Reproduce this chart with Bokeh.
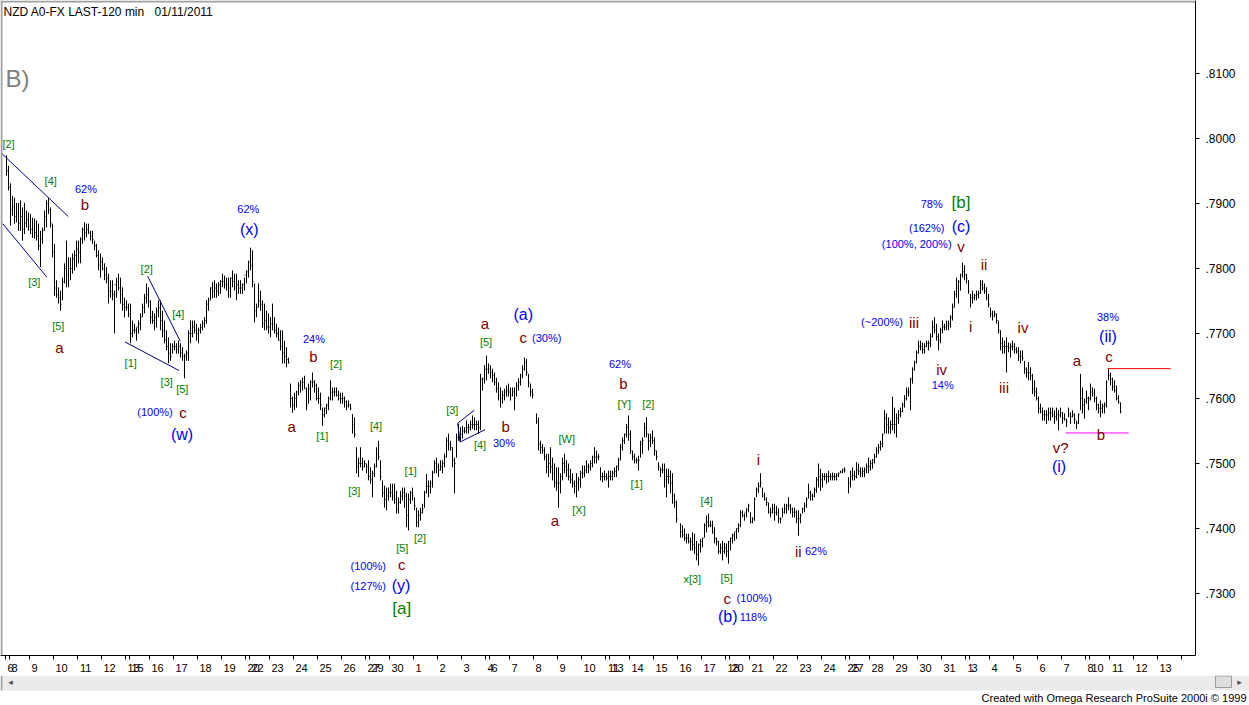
import math
from bokeh.plotting import figure
from bokeh.layouts import column
from bokeh.models import Range1d, FixedTicker, Label, BoxAnnotation, AllLabels
from bokeh.core.properties import value
from bokeh.embed import file_html
from bokeh.resources import INLINE

# ---------------- data ----------------
TITLE = "NZD A0-FX LAST-120 min"
TITLE_DATE = "01/11/2011"
CREDIT = "Created with Omega Research ProSuite 2000i \u00a9 1999"
PANEL_TAG = "B)"

FIRST_BAR = -2  # index of the first 120-min bar (Nov 6 2010 session)

# prices in pips (x 0.0001); None = no bar
HI = [
    7974, 7958,
    7931, 7912, 7909, 7901, 7901, 7905, 7894, 7901, 7889, 7886,
    7884, 7878, 7877, 7874, 7869, 7858, 7863, 7889, 7905, 7909, 7894, 7869,
    7838, 7782, 7771, 7766, 7786, 7808, 7843, 7817, 7817, 7823, 7828, 7843,
    7843, 7848, 7863, 7871, 7869, 7869, 7858, 7858, 7843, 7838, 7828, 7823,
    7817, 7808, 7802, 7792, 7782, 7782, 7766, 7786, 7792, 7786, 7771, 7755,
    7751, 7746,
    7746, 7720, 7715, 7709, 7720, 7731, 7746, 7761, 7777, 7771,
    7751, 7735, 7731, 7740, 7751, 7751, 7735, 7720, 7705, 7694, 7685, 7685,
    7689, 7685, 7689, 7685, 7679, 7669, 7674, 7705, 7720, 7720, 7720, 7715,
    7709, 7715, 7720, 7725, 7751, 7755, 7771, 7779, 7782, 7777, 7779, 7782,
    7792, 7789, 7786, 7786, 7786, 7797, 7792, 7792, 7782, 7782, 7777, 7786,
    7797, 7812,
    7832, 7828, 7777, 7746, 7777, 7766, 7751, 7746, 7735, 7731,
    7725, 7746, 7725, 7715, 7709, 7705, 7705, 7689, 7679, 7663, 7623, 7603,
    7609, 7612, 7625, 7628, 7632, 7635, 7617, 7623, 7628, 7640, 7628, 7623,
    7617, 7609, 7586, 7586, 7592, 7603, 7628, 7617, 7617, 7617, 7612, 7609,
    7609, 7603, 7597, 7597, 7592, 7576, 7571, 7525, 7509, 7525, 7509, 7505,
    7500, 7505,
    7494, 7489, 7500, 7525, 7535, 7505, 7474, 7466, 7463, 7463,
    7469, 7469, 7469, 7458, 7448, 7458, 7463, 7463, 7455, 7454, 7458, 7463,
    7448, 7432, 7428, 7432, 7438, 7458, 7484, 7474, 7474, 7489, 7505, 7509,
    7500, 7505, 7505, 7515, 7540, 7546, 7535, 7525, 7509, 7546, 7561, 7556,
    7558, 7556, 7566, 7561, 7566, 7574, 7571, 7566, 7566, 7638, 7632, 7651,
    7666, 7654,
    7651, 7646, 7640, 7632, 7625, 7617, 7612, 7615, 7620, 7623,
    7617, 7617, 7617, 7625, 7631, 7638, 7651, 7663, 7661, 7638, 7623, 7615,
    None, 7577, 7571, 7535, 7530, 7525, 7515, 7515, 7525, 7509, 7500, 7494,
    7494, 7485, 7509, 7515, 7505, 7500, 7492, 7485, 7474, 7485, 7479, 7489,
    7497, 7497, 7505, 7500, 7505, 7512, 7525, 7520, 7515, 7494, 7486, 7489,
    7485, 7489,
    7489, 7489, 7494, 7497, 7509, 7530, 7540, 7546, 7561, 7574,
    7551, 7520, 7515, 7509, 7512, 7535, 7540, 7563, 7571, 7546, 7546, 7551,
    7540, 7520, 7502, 7494, 7500, 7500, 7492, 7492, 7489, 7485, 7454, 7443,
    None, 7408, 7405, 7400, 7392, 7392, 7386, 7394, 7392, 7381, 7377, 7384,
    7386, 7408, 7420, 7423, 7412, 7412, 7402, 7386, 7381, 7377, 7381, 7378,
    7377, 7381,
    7386, 7392, 7394, 7400, 7408, 7428, 7428, 7423, 7431, 7438,
    7425, 7417, 7448, 7463, 7471, 7485, 7463, 7455, 7448, 7440, 7432, 7438,
    7438, 7435, 7431, 7417, 7432, 7438, 7438, 7448, 7438, 7432, 7432, 7428,
    7428, 7423, 7432, 7440, 7448, 7469, 7458, 7454, 7463, 7479, 7500, 7492,
    7485, 7485, 7485, 7489, 7485, 7486, 7485, 7485, 7486, 7489, 7492, 7494,
    None, 7479,
    7489, 7494, 7489, 7502, 7500, 7494, 7494, 7494, 7500, 7509,
    7505, 7507, 7515, 7525, 7530, 7535, 7546, 7582, 7577, 7571, 7566, 7603,
    7586, 7577, 7582, 7586, 7594, 7605, 7617, 7617, 7632, 7648, 7658, 7674,
    7689, 7689, 7686, 7685, 7689, 7689, 7700, 7720, 7725, 7715, 7700, 7709,
    7720, 7715, 7720, 7720, 7728, 7746, 7766, 7786, 7782, 7792, 7809, 7805,
    7792, 7782,
    7761, 7766, 7761, 7766, 7766, 7782, 7782, 7777, 7771, 7761,
    7740, 7735, 7735, 7731, 7720, 7705, 7694, 7689, 7694, 7686, 7685, 7689,
    7685, 7679, 7679, 7674, 7674, 7658, 7648, 7656, 7648, 7638, 7628, 7617,
    7603, 7592, 7586, 7582, 7582, 7586, 7586, 7586, 7582, 7586, 7582, 7586,
    7579, 7577, 7569, 7586, 7579, 7582, 7577, 7566, 7577, 7638, 7617, 7600,
    7612, 7603,
    7623, 7617, 7615, 7603, 7592, 7597, 7592, 7594, 7628, 7646,
    7640, 7632, 7628, 7620, 7605, 7594,
]

LO = [
    7943, 7920,
    7866, 7881, 7869, 7871, 7858, 7858, 7843, 7853, 7863, 7858,
    7853, 7847, 7846, 7843, 7828, 7802, 7838, 7858, 7863, 7884, 7863, 7817,
    7758, 7755, 7746, 7735, 7751, 7777, 7771, 7771, 7782, 7792, 7797, 7802,
    7808, 7808, 7838, 7843, 7848, 7853, 7843, 7838, 7828, 7817, 7797, 7786,
    7797, 7782, 7777, 7746, 7755, 7751, 7700, 7755, 7766, 7746, 7735, 7725,
    7735, 7725,
    7685, 7694, 7700, 7689, 7700, 7705, 7725, 7731, 7746, 7740,
    7715, 7715, 7705, 7709, 7725, 7705, 7694, 7685, 7674, 7654, 7658, 7669,
    7674, 7669, 7669, 7663, 7658, 7631, 7658, 7658, 7685, 7694, 7700, 7689,
    7685, 7700, 7705, 7709, 7715, 7735, 7751, 7754, 7755, 7755, 7758, 7761,
    7771, 7769, 7766, 7755, 7755, 7771, 7766, 7751, 7761, 7761, 7761, 7766,
    7777, 7786,
    7797, 7771, 7717, 7725, 7740, 7735, 7709, 7705, 7705, 7700,
    7694, 7705, 7700, 7694, 7689, 7674, 7654, 7654, 7648, 7654, 7586, 7578,
    7582, 7586, 7605, 7609, 7612, 7615, 7582, 7592, 7597, 7617, 7609, 7597,
    7592, 7582, 7558, 7571, 7576, 7582, 7597, 7597, 7603, 7603, 7597, 7592,
    7592, 7586, 7582, 7586, 7582, 7546, 7540, 7485, 7479, 7494, 7489, 7494,
    7485, 7474,
    7469, 7448, 7479, 7494, 7505, 7474, 7448, 7432, 7428, 7443,
    7448, 7443, 7438, 7423, 7423, 7438, 7443, 7432, 7402, 7397, 7438, 7443,
    7428, 7402, 7402, 7412, 7423, 7432, 7454, 7448, 7454, 7463, 7485, 7485,
    7479, 7489, 7485, 7494, 7509, 7520, 7520, 7494, 7454, 7509, 7535, 7535,
    7538, 7546, 7546, 7546, 7551, 7553, 7551, 7551, 7546, 7551, 7612, 7623,
    7628, 7638,
    7631, 7625, 7620, 7609, 7597, 7586, 7592, 7597, 7603, 7603,
    7597, 7603, 7582, 7603, 7612, 7620, 7631, 7643, 7635, 7617, 7603, 7600,
    None, 7561, 7520, 7515, 7515, 7505, 7485, 7479, 7485, 7474, 7463, 7458,
    7432, 7454, 7474, 7485, 7479, 7474, 7469, 7463, 7454, 7448, 7458, 7463,
    7477, 7479, 7485, 7485, 7489, 7494, 7500, 7500, 7505, 7474, 7471, 7474,
    7474, 7463,
    7474, 7474, 7479, 7479, 7489, 7505, 7520, 7530, 7540, 7535,
    7515, 7505, 7500, 7500, 7489, 7509, 7515, 7540, 7540, 7520, 7525, 7530,
    7512, 7505, 7489, 7479, 7485, 7463, 7448, 7469, 7454, 7438, 7432, 7409,
    None, 7386, 7386, 7381, 7377, 7377, 7366, 7366, 7361, 7351, 7343, 7363,
    7371, 7386, 7394, 7402, 7402, 7392, 7377, 7374, 7361, 7361, 7351, 7361,
    7356, 7346,
    7366, 7377, 7381, 7384, 7394, 7402, 7417, 7412, 7417, 7425,
    7408, 7408, 7412, 7448, 7455, 7463, 7448, 7443, 7435, 7423, 7417, 7423,
    7412, 7420, 7408, 7408, 7417, 7423, 7423, 7428, 7423, 7417, 7417, 7408,
    7389, 7408, 7423, 7425, 7432, 7446, 7443, 7443, 7448, 7455, 7463, 7458,
    7463, 7474, 7469, 7471, 7474, 7474, 7474, 7474, 7479, 7485, 7485, 7486,
    None, 7454,
    7463, 7474, 7474, 7477, 7482, 7479, 7479, 7479, 7485, 7485,
    7489, 7492, 7500, 7509, 7515, 7520, 7525, 7546, 7546, 7546, 7546, 7551,
    7546, 7540, 7561, 7571, 7579, 7586, 7597, 7603, 7582, 7623, 7643, 7654,
    7669, 7674, 7669, 7669, 7679, 7674, 7679, 7694, 7700, 7689, 7674, 7685,
    7700, 7705, 7705, 7705, 7709, 7720, 7740, 7755, 7746, 7766, 7786, 7782,
    7777, 7761,
    7740, 7746, 7751, 7751, 7754, 7761, 7766, 7761, 7751, 7740,
    7725, 7720, 7725, 7715, 7700, 7674, 7669, 7669, 7640, 7671, 7663, 7674,
    7669, 7669, 7658, 7654, 7658, 7638, 7632, 7628, 7628, 7607, 7603, 7597,
    7577, 7577, 7566, 7566, 7561, 7566, 7566, 7571, 7561, 7566, 7551, 7571,
    7561, 7566, 7556, 7571, 7561, 7571, 7561, 7553, 7561, 7582, 7577, 7569,
    7592, 7582,
    7597, 7603, 7594, 7582, 7577, 7571, 7577, 7577, 7586, 7628,
    7620, 7612, 7609, 7597, 7592, 7577,
]

CL = [
    7950, 7925,
    7890, 7895, 7880, 7885, 7870, 7880, 7860, 7870, 7875, 7865,
    7860, 7860, 7855, 7850, 7835, 7845, 7858, 7880, 7900, 7890, 7870, 7825,
    7770, 7760, 7755, 7745, 7780, 7800, 7790, 7800, 7800, 7815, 7820, 7830,
    7825, 7845, 7860, 7855, 7860, 7855, 7850, 7845, 7835, 7820, 7805, 7810,
    7800, 7790, 7785, 7765, 7765, 7760, 7775, 7780, 7770, 7760, 7745, 7740,
    7740, 7730,
    7700, 7705, 7705, 7710, 7715, 7725, 7740, 7755, 7760, 7750,
    7725, 7720, 7725, 7735, 7740, 7720, 7705, 7690, 7680, 7670, 7665, 7680,
    7680, 7675, 7680, 7670, 7665, 7665, 7670, 7700, 7700, 7710, 7705, 7700,
    7705, 7710, 7715, 7720, 7745, 7750, 7770, 7765, 7770, 7765, 7775, 7780,
    7780, 7775, 7775, 7770, 7785, 7780, 7770, 7775, 7770, 7770, 7775, 7790,
    7795, 7810,
    7805, 7780, 7735, 7740, 7750, 7745, 7715, 7720, 7710, 7710,
    7715, 7715, 7705, 7700, 7690, 7680, 7670, 7665, 7660, 7655, 7600, 7590,
    7600, 7610, 7620, 7625, 7625, 7615, 7590, 7615, 7625, 7625, 7620, 7600,
    7600, 7590, 7575, 7585, 7590, 7600, 7610, 7610, 7610, 7605, 7605, 7600,
    7600, 7595, 7590, 7590, 7585, 7560, 7545, 7495, 7500, 7500, 7495, 7500,
    7495, 7480,
    7475, 7485, 7495, 7515, 7510, 7480, 7455, 7445, 7450, 7455,
    7455, 7450, 7445, 7430, 7440, 7450, 7455, 7450, 7420, 7445, 7455, 7450,
    7435, 7410, 7420, 7425, 7430, 7455, 7465, 7465, 7470, 7485, 7500, 7495,
    7490, 7495, 7500, 7510, 7535, 7530, 7525, 7505, 7500, 7540, 7545, 7545,
    7550, 7550, 7555, 7555, 7560, 7560, 7560, 7560, 7555, 7630, 7630, 7645,
    7645, 7645,
    7640, 7635, 7625, 7615, 7605, 7600, 7605, 7610, 7612, 7610,
    7605, 7610, 7600, 7620, 7625, 7635, 7645, 7655, 7640, 7625, 7610, 7605,
    None, 7565, 7530, 7525, 7520, 7510, 7495, 7500, 7495, 7485, 7470, 7470,
    7470, 7480, 7500, 7495, 7490, 7480, 7475, 7470, 7465, 7470, 7475, 7485,
    7485, 7490, 7495, 7495, 7500, 7510, 7510, 7510, 7510, 7480, 7480, 7480,
    7478, 7480,
    7480, 7485, 7488, 7495, 7505, 7525, 7535, 7545, 7555, 7545,
    7520, 7510, 7505, 7505, 7505, 7530, 7535, 7555, 7545, 7535, 7540, 7535,
    7520, 7510, 7495, 7490, 7490, 7475, 7480, 7480, 7470, 7450, 7440, 7415,
    None, 7395, 7390, 7385, 7385, 7380, 7380, 7375, 7370, 7360, 7375, 7380,
    7385, 7405, 7410, 7405, 7405, 7395, 7385, 7380, 7365, 7370, 7365, 7370,
    7365, 7380,
    7385, 7390, 7395, 7400, 7405, 7425, 7420, 7425, 7430, 7435,
    7410, 7415, 7445, 7460, 7465, 7470, 7450, 7445, 7440, 7425, 7425, 7430,
    7425, 7425, 7415, 7415, 7425, 7430, 7435, 7435, 7430, 7425, 7425, 7415,
    7415, 7420, 7430, 7435, 7445, 7455, 7450, 7450, 7460, 7475, 7480, 7475,
    7480, 7480, 7480, 7480, 7480, 7480, 7480, 7482, 7485, 7487, 7490, 7490,
    None, 7470,
    7480, 7482, 7480, 7490, 7488, 7485, 7488, 7490, 7495, 7495,
    7500, 7505, 7510, 7520, 7525, 7530, 7545, 7570, 7560, 7555, 7560, 7560,
    7560, 7570, 7575, 7580, 7590, 7600, 7610, 7610, 7630, 7645, 7655, 7670,
    7680, 7680, 7675, 7680, 7685, 7685, 7695, 7710, 7705, 7695, 7690, 7705,
    7710, 7710, 7712, 7715, 7725, 7740, 7760, 7770, 7780, 7790, 7795, 7790,
    7785, 7765,
    7755, 7755, 7758, 7760, 7762, 7775, 7770, 7765, 7755, 7745,
    7730, 7728, 7730, 7720, 7705, 7685, 7680, 7680, 7680, 7678, 7680, 7680,
    7675, 7672, 7665, 7665, 7662, 7645, 7640, 7640, 7635, 7615, 7610, 7600,
    7585, 7580, 7575, 7575, 7575, 7578, 7578, 7575, 7572, 7575, 7575, 7578,
    7570, 7568, 7565, 7575, 7572, 7575, 7568, 7562, 7575, 7600, 7590, 7595,
    7600, 7600,
    7610, 7608, 7600, 7590, 7585, 7585, 7588, 7590, 7625, 7635,
    7630, 7618, 7612, 7600, 7595, 7580,
]

# calendar: label of each session and the index of its first bar
DAY_LABELS = ["6", "8", "9", "10", "11", "12", "13", "15", "16", "17", "18", "19",
              "20", "22", "23", "24", "25", "26", "27", "29", "30", "1", "2", "3",
              "4", "6", "7", "8", "9", "10", "11", "13", "14", "15", "16", "17",
              "18", "20", "21", "22", "23", "24", "25", "27", "28", "29", "30", "31",
              "1", "3", "4", "5", "6", "7", "8", "10", "11", "12", "13", ""]
DAY_START = [-2, 0, 10, 22, 34, 46, 58, 60, 70, 82, 94, 106,
             118, 120, 130, 142, 154, 166, 178, 180, 190, 202, 214, 226,
             238, 240, 250, 262, 274, 286, 298, 300, 310, 322, 334, 346,
             358, 360, 370, 382, 394, 406, 418, 420, 430, 442, 454, 466,
             478, 480, 490, 502, 514, 526, 538, 540, 550, 562, 574, 586]

Y_TICKS = [0.73, 0.74, 0.75, 0.76, 0.77, 0.78, 0.79, 0.80, 0.81]
Y_LABELS = [".7300", ".7400", ".7500", ".7600", ".7700", ".7800", ".7900", ".8000", ".8100"]

# Elliott-wave annotations: (text, bar, price, kind)
WAVE_LABELS = [
    ("[2]", -1.0, 0.7991, "num"), ("[4]", 20.1, 0.7934, "num"),
    ("62%", 37.75, 0.7922, "pct"), ("b", 37.25, 0.7899, "sub"),
    ("[3]", 11.9, 0.7779, "num"), ("[5]", 23.9, 0.7712, "num"), ("a", 24.4, 0.7679, "sub"),
    ("[2]", 68.1, 0.7800, "num"), ("[4]", 83.9, 0.7730, "num"), ("[1]", 60.1, 0.7655, "num"),
    ("[3]", 78.1, 0.7626, "num"), ("[5]", 85.9, 0.7615, "num"),
    ("(100%)", 72.25, 0.7580, "pct"), ("c", 86.25, 0.7579, "sub"), ("(w)", 85.75, 0.7545, "par"),
    ("62%", 118.9, 0.7892, "pct"), ("(x)", 119.4, 0.7860, "par"),
    ("24%", 151.75, 0.7692, "pct"), ("b", 151.4, 0.7665, "sub"), ("[2]", 162.75, 0.7653, "num"),
    ("a", 140.6, 0.7557, "sub"), ("[1]", 155.9, 0.7542, "num"), ("[4]", 182.75, 0.7557, "num"),
    ("[3]", 171.9, 0.7457, "num"), ("[1]", 200.1, 0.7488, "num"), ("[5]", 195.9, 0.7370, "num"),
    ("[2]", 204.75, 0.7386, "num"), ("(100%)", 178.9, 0.7342, "pct"), ("c", 195.6, 0.7344, "sub"),
    ("(127%)", 178.9, 0.7312, "pct"), ("(y)", 195.25, 0.7312, "par"), ("[a]", 195.6, 0.7277, "deg"),
    ("[3]", 220.9, 0.7582, "num"), ("[4]", 234.75, 0.7529, "num"),
    ("a", 237.25, 0.7716, "sub"), ("[5]", 237.75, 0.7687, "num"),
    ("(a)", 256.4, 0.7729, "par"), ("c", 256.4, 0.7694, "sub"), ("(30%)", 268.1, 0.7693, "pct"),
    ("b", 247.6, 0.7557, "sub"), ("30%", 246.75, 0.7532, "pct"),
    ("[W]", 278.1, 0.7537, "num"), ("a", 272.25, 0.7412, "sub"), ("[X]", 284.25, 0.7429, "num"),
    ("62%", 304.75, 0.7653, "pct"), ("b", 306.4, 0.7623, "sub"), ("[Y]", 306.9, 0.7591, "num"),
    ("[2]", 318.9, 0.7591, "num"), ("[1]", 313.1, 0.7469, "num"), ("[4]", 348.1, 0.7443, "num"),
    ("x[3]", 340.9, 0.7323, "num"), ("[5]", 358.1, 0.7324, "num"),
    ("c", 358.4, 0.7293, "sub"), ("(100%)", 371.9, 0.7293, "pct"),
    ("(b)", 358.6, 0.7265, "par"), ("118%", 371.4, 0.7264, "pct"),
    ("i", 373.9, 0.7506, "sub"), ("ii", 393.9, 0.7365, "sub"), ("62%", 402.75, 0.7366, "pct"),
    ("78%", 460.6, 0.7899, "pct"), ("[b]", 475.25, 0.7901, "deg"),
    ("(162%)", 458.1, 0.7863, "pct"), ("(c)", 475.25, 0.7865, "par"),
    ("(100%, 200%)", 453.1, 0.7837, "pct"), ("v", 475.25, 0.7834, "sub"),
    ("(~200%)", 435.75, 0.7717, "pct"), ("iii", 451.75, 0.7717, "sub"),
    ("i", 480.1, 0.7711, "sub"), ("ii", 486.75, 0.7806, "sub"),
    ("iv", 465.6, 0.7644, "sub"), ("14%", 466.1, 0.7621, "pct"),
    ("iv", 506.25, 0.7710, "sub"), ("iii", 496.75, 0.7617, "sub"),
    ("v?", 525.1, 0.7525, "sub"), ("(i)", 524.25, 0.7496, "par"),
    ("a", 533.25, 0.7659, "sub"), ("38%", 548.75, 0.7726, "pct"), ("(ii)", 548.75, 0.7696, "par"),
    ("c", 549.25, 0.7665, "sub"), ("b", 545.25, 0.7545, "sub"),
]

# hand-drawn trend lines: (bar0, price0, bar1, price1, colour)
TREND_LINES = [
    (-4.4, 0.7977, 28.9, 0.7880, "#000080"),
    (-3.9, 0.7869, 18.1, 0.7787, "#000080"),
    (57.25, 0.7687, 84.25, 0.7643, "#000080"),
    (68.6, 0.7788, 84.9, 0.7688, "#000080"),
    (223.6, 0.7562, 231.9, 0.7582, "#000080"),
    (224.75, 0.7533, 237.25, 0.7552, "#000080"),
    (223.6, 0.7562, 224.75, 0.7533, "#000080"),
    (548.6, 0.7646, 580.1, 0.7646, "#ff0000"),
    (527.6, 0.7547, 559.1, 0.7547, "#ff00ff"),
]

# ---------------- styling / layout ----------------
W = 1249
H_MAIN = 675          # main chart canvas height
H_FOOT = 30           # scroll bar + credit strip
FR, FB = 1195, 655    # frame right / bottom (canvas px)
X0, X1 = -5.0, 592.5
Y1 = 0.821231
Y0 = Y1 - FB / 6500.0
FONT = "Liberation Sans"
KIND = {"num": ("#008000", "11px"), "pct": ("#0000ff", "11px"),
        "sub": ("#800000", "15px"), "par": ("#0000ff", "16px"), "deg": ("#008000", "17px")}

def px(v):
    return float("nan") if v is None else v / 10000.0

def no_frame_align(fig):
    if "frame_align" in fig.properties():
        fig.frame_align = False

n = min(len(HI), len(LO), len(CL))
xs = [FIRST_BAR + i for i in range(n)]
hi = [px(v) for v in HI[:n]]
lo = [px(v) for v in LO[:n]]
cl = [px(v) for v in CL[:n]]

p = figure(width=W, height=H_MAIN, x_range=Range1d(X0, X1), y_range=Range1d(Y0, Y1),
           output_backend="svg", toolbar_location=None,
           x_axis_location="below", y_axis_location="right",
           min_border_left=0, min_border_top=0,
           min_border_right=W - FR, min_border_bottom=H_MAIN - FB)
no_frame_align(p)
p.outline_line_color = None
p.background_fill_color = "white"
p.border_fill_color = "white"
p.grid.visible = False

# right price axis
yax = p.yaxis[0]
yax.ticker = FixedTicker(ticks=Y_TICKS)
yax.major_label_overrides = dict(zip(Y_TICKS, Y_LABELS))
yax.minor_tick_line_color = None
yax.major_tick_in = 0
yax.major_tick_out = 4
yax.major_label_standoff = 6
yax.axis_line_color = "black"
yax.major_tick_line_color = "black"
yax.major_label_text_font = FONT
yax.major_label_text_font_size = "12px"
yax.major_label_text_color = "black"

# bottom date axis: marks (minor ticks) at session starts, labels just right of them
bounds = [s - 0.5 for s in DAY_START]
centers, over = [], {}
for s, t in zip(DAY_START, DAY_LABELS):
    if not t:
        continue
    c = s - 0.5 + (2.0 + 3.05 * len(t)) / 2.0
    centers.append(c)
    over[c] = t
xax = p.xaxis[0]
xax.ticker = FixedTicker(ticks=centers, minor_ticks=bounds)
xax.major_label_overrides = over
xax.major_tick_line_color = None
xax.major_tick_in = 0
xax.major_tick_out = 0
xax.minor_tick_line_color = "black"
xax.minor_tick_in = 0
xax.minor_tick_out = 4
xax.axis_line_color = "black"
xax.major_label_standoff = 4
xax.major_label_text_font = FONT
xax.major_label_text_font_size = "11px"
xax.major_label_text_color = "black"
xax.major_label_policy = AllLabels()

# window border (inside frame)
for l, r, t, b in [(0, FR, FB, FB - 2), (0, 2, FB, 0)]:
    p.add_layout(BoxAnnotation(left=l, right=r, top=t, bottom=b,
                               left_units="screen", right_units="screen",
                               top_units="screen", bottom_units="screen",
                               fill_color="#a0a0a0", fill_alpha=1.0, line_alpha=0.0))

# price bars (high-low with close tick)
p.segment(x0=xs, y0=lo, x1=xs, y1=hi, line_color="black", line_width=1)
p.segment(x0=xs, y0=cl, x1=[x + 0.5 for x in xs], y1=cl, line_color="black", line_width=1)

# trend lines
for x0, y0, x1, y1, col in TREND_LINES:
    p.line([x0, x1], [y0, y1], line_color=col, line_width=1)

# wave labels
for text, x, y, kind in WAVE_LABELS:
    col, size = KIND[kind]
    p.add_layout(Label(x=x, y=y, text=text, text_color=col, text_font=FONT,
                       text_font_size=size, text_align="center", text_baseline="middle"))

def stext(cx, cy, t, size, color="black", align="left"):
    p.add_layout(Label(x=cx, y=FB - cy, x_units="screen", y_units="screen", text=t,
                       text_font=FONT, text_font_size=size, text_color=color,
                       text_align=align, text_baseline="middle"))

stext(3, 11, TITLE, "12px")
stext(154, 11, TITLE_DATE, "12px")
stext(5, 78, PANEL_TAG, "24px", color="#808080")

# ---------------- footer strip: scroll bar and credit ----------------
f = figure(width=W, height=H_FOOT, x_range=Range1d(0, W), y_range=Range1d(H_FOOT, 0),
           output_backend="svg", toolbar_location=None,
           x_axis_location=None, y_axis_location=None,
           min_border_left=0, min_border_right=0, min_border_top=0, min_border_bottom=0)
no_frame_align(f)
f.outline_line_color = None
f.background_fill_color = "white"
f.border_fill_color = "white"
f.grid.visible = False
f.quad(left=[2], right=[W], top=[0], bottom=[15], fill_color="#ebebeb", line_color=None)
f.quad(left=[0], right=[2], top=[0], bottom=[15], fill_color="#a0a0a0", line_color=None)
f.quad(left=[1215], right=[1231], top=[0.5], bottom=[12], fill_color="#dedede",
       line_color="#9a9a9a", line_width=1)
f.text(x=[10, 1239], y=[6, 6], text=["\u25c2", "\u25b8"], text_font=value("DejaVu Sans"),
       text_font_size=value("9px"), text_color="#505050", text_align="center",
       text_baseline="middle")
f.text(x=[1246], y=[22], text=[CREDIT], text_font=value(FONT), text_font_size=value("11px"),
       text_color="black", text_align="right", text_baseline="middle")

layout = column(p, f, spacing=0)
open("out.html", "w").write(file_html(layout, INLINE))
